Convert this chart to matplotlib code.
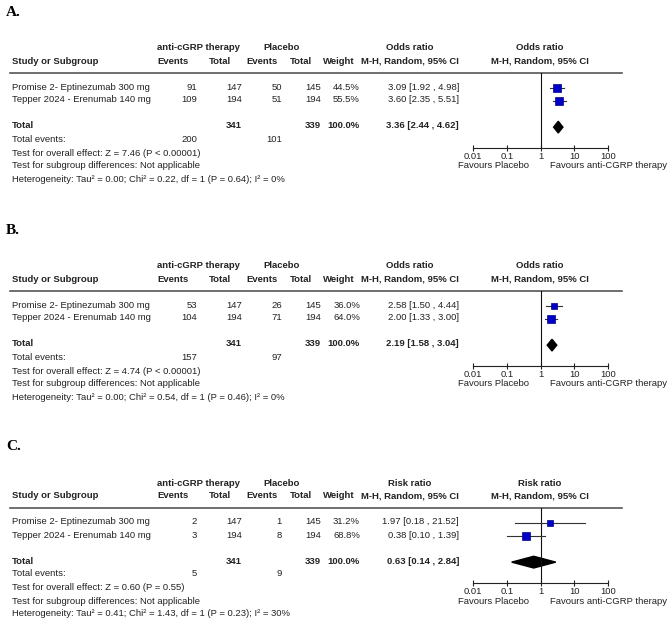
import matplotlib
matplotlib.use('Agg')
import matplotlib.pyplot as plt
import numpy as np

plt.rcParams['font.family'] = ['Liberation Sans', 'DejaVu Sans']

studies = ['Promise 2- Eptinezumab 300 mg', 'Tepper 2024 - Erenumab 140 mg']
panel_labels = ['A.', 'B.', 'C.']
measures = ['Odds ratio', 'Odds ratio', 'Risk ratio']

exp_events = [[91, 109], [53, 104], [2, 3]]
exp_total = [147, 194]
ctrl_events = [[50, 51], [26, 71], [1, 8]]
ctrl_total = [145, 194]
weights = [[44.5, 55.5], [36.0, 64.0], [31.2, 68.8]]
est = [[3.09, 3.60], [2.58, 2.00], [1.97, 0.38]]
ci_lo = [[1.92, 2.35], [1.50, 1.33], [0.18, 0.10]]
ci_hi = [[4.98, 5.51], [4.44, 3.00], [21.52, 1.39]]
tot_est = [3.36, 2.19, 0.63]
tot_lo = [2.44, 1.58, 0.14]
tot_hi = [4.62, 3.04, 2.84]
tot_exp_events = [200, 157, 5]
tot_ctrl_events = [101, 97, 9]
overall = ['Z = 7.46 (P < 0.00001)', 'Z = 4.74 (P < 0.00001)', 'Z = 0.60 (P = 0.55)']
hetero = ['Tau² = 0.00; Chi² = 0.22, df = 1 (P = 0.64); I² = 0%',
          'Tau² = 0.00; Chi² = 0.54, df = 1 (P = 0.46); I² = 0%',
          'Tau² = 0.41; Chi² = 1.43, df = 1 (P = 0.23); I² = 30%']
ticks = [0.01, 0.1, 1, 10, 100]
tick_labels = ['0.01', '0.1', '1', '10', '100']

W, H = 669, 622
fig = plt.figure(figsize=(W / 100, H / 100), dpi=100)
base = fig.add_axes([0, 0, 1, 1])
base.set_xlim(0, W)
base.set_ylim(H, 0)
base.axis('off')

fs = 6.8
tc = '#222222'
seps = [73, 291, 508]


def txt(x, y, s, ha='left', bold=False):
    base.text(x, y, s, ha=ha, va='center', fontsize=fs, color=tc,
              fontweight='bold' if bold else 'normal')


def ci_str(e, lo, hi):
    return '%.2f [%.2f , %.2f]' % (e, lo, hi)


for p in range(3):
    s = seps[p]
    base.text(6, s - 61, panel_labels[p], fontsize=11, fontweight='bold',
              family='Liberation Serif', va='center', color='black')
    # header
    txt(198, s - 25, 'anti-cGRP therapy', 'center', True)
    txt(282, s - 25, 'Placebo', 'center', True)
    txt(410, s - 25, measures[p], 'center', True)
    txt(540, s - 25, measures[p], 'center', True)
    txt(12, s - 12, 'Study or Subgroup', bold=True)
    txt(173, s - 12, 'Events', 'center', True)
    txt(220, s - 12, 'Total', 'center', True)
    txt(262, s - 12, 'Events', 'center', True)
    txt(301, s - 12, 'Total', 'center', True)
    txt(339, s - 12, 'Weight', 'center', True)
    txt(410, s - 12, 'M-H, Random, 95% CI', 'center', True)
    txt(540, s - 12, 'M-H, Random, 95% CI', 'center', True)
    base.plot([10, 622], [s, s], color='#555555', lw=1.2)

    for i in range(2):
        y = s + 14 + 13 * i
        txt(12, y, studies[i])
        txt(197, y, str(exp_events[p][i]), 'right')
        txt(242, y, str(exp_total[i]), 'right')
        txt(282, y, str(ctrl_events[p][i]), 'right')
        txt(321, y, str(ctrl_total[i]), 'right')
        txt(360, y, '%.1f%%' % weights[p][i], 'right')
        txt(459, y, ci_str(est[p][i], ci_lo[p][i], ci_hi[p][i]), 'right')

    y = s + 53
    txt(12, y, 'Total', bold=True)
    txt(242, y, str(sum(exp_total)), 'right', True)
    txt(321, y, str(sum(ctrl_total)), 'right', True)
    txt(360, y, '100.0%', 'right', True)
    txt(459, y, ci_str(tot_est[p], tot_lo[p], tot_hi[p]), 'right', True)
    txt(12, s + 66, 'Total events:')
    txt(197, s + 66, str(tot_exp_events[p]), 'right')
    txt(282, s + 66, str(tot_ctrl_events[p]), 'right')
    txt(12, s + 80, 'Test for overall effect: ' + overall[p])
    txt(12, s + 93, 'Test for subgroup differences: Not applicable')
    txt(12, s + 106, 'Heterogeneity: ' + hetero[p])
    txt(493, s + 93, 'Favours Placebo', 'center')
    txt(608, s + 93, 'Favours anti-CGRP therapy', 'center')

    # forest plot
    left, right = 473, 608
    fax = fig.add_axes([left / W, 1 - (s + 75) / H, (right - left) / W, 75 / H])
    fax.set_xscale('log')
    fax.set_xlim(0.01, 100)
    fax.set_ylim(4.6, -1.15)
    fax.patch.set_alpha(0)
    for sp in ['top', 'left', 'right']:
        fax.spines[sp].set_visible(False)
    fax.spines['bottom'].set_color('#222222')
    fax.spines['bottom'].set_linewidth(0.8)
    fax.set_yticks([])
    fax.set_xticks(ticks)
    fax.set_xticklabels(tick_labels)
    fax.minorticks_off()
    fax.tick_params(axis='x', direction='inout', length=4, width=0.8,
                    labelsize=fs, colors='#222222', pad=1)
    fax.axvline(1, color='#111111', lw=0.8)
    for i in range(2):
        fax.plot([ci_lo[p][i], ci_hi[p][i]], [i, i], color='#333333', lw=0.8)
        fax.plot(est[p][i], i, marker='s', color='#0000c8',
                 markeredgecolor='#000080', markeredgewidth=0.5,
                 markersize=np.sqrt(weights[p][i] / 100) * 7.8)
    fax.fill([tot_lo[p], tot_est[p], tot_hi[p], tot_est[p]],
             [3, 2.55, 3, 3.45], color='black')

fig.savefig('out.png', dpi=100)
